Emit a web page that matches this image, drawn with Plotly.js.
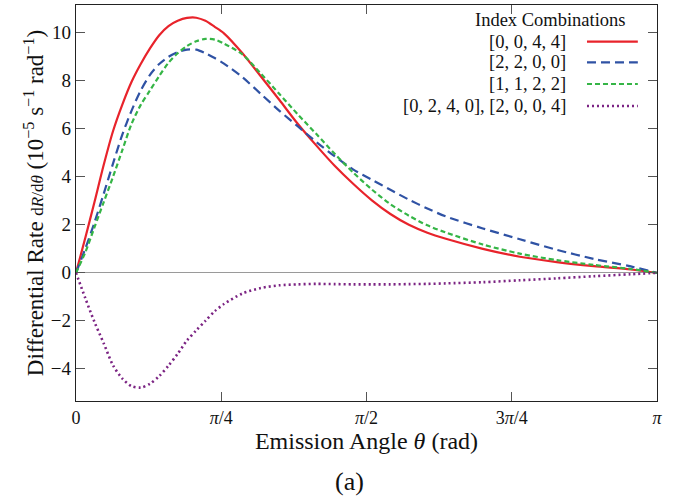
<!DOCTYPE html>
<html>
<head>
<meta charset="utf-8">
<script src="https://cdn.plot.ly/plotly-3.0.1.min.js"></script>
<style>
  html, body { margin: 0; padding: 0; background: #fff; }
  #chart { width: 674px; height: 498px; }
</style>
</head>
<body>
<div id="chart"></div>
<script>
// Emission angle theta (rad)
const theta = [0, 0.05, 0.1, 0.15, 0.2, 0.25, 0.3, 0.35, 0.4, 0.45, 0.5, 0.55, 0.6, 0.65, 0.7, 0.75, 0.8, 0.9, 1.0, 1.1, 1.2, 1.3, 1.4, 1.5, 1.6, 1.7, 1.8, 1.9, 2.0, 2.2, 2.4, 2.6, 2.8, 3.0, 3.1416];

// Differential rate (10^-5 s^-1 rad^-1)
const rate0044 = [0, 1.45, 2.95, 4.5, 5.9, 7.0, 7.95, 8.7, 9.35, 9.9, 10.28, 10.5, 10.62, 10.63, 10.5, 10.25, 9.98, 9.15, 8.18, 7.2, 6.2, 5.3, 4.45, 3.7, 3.02, 2.45, 2.0, 1.67, 1.42, 1.0, 0.67, 0.45, 0.28, 0.14, 0];
const rate2200 = [0, 1.0, 2.1, 3.3, 4.55, 5.75, 6.75, 7.6, 8.25, 8.7, 9.0, 9.2, 9.3, 9.3, 9.15, 8.95, 8.72, 8.15, 7.45, 6.75, 6.1, 5.45, 4.85, 4.3, 3.88, 3.46, 3.05, 2.68, 2.35, 1.85, 1.40, 0.96, 0.58, 0.27, 0];
const rate1122 = [0, 0.85, 1.9, 2.95, 4.0, 5.1, 6.2, 7.0, 7.6, 8.2, 8.75, 9.15, 9.45, 9.65, 9.75, 9.72, 9.55, 9.1, 8.3, 7.45, 6.6, 5.78, 4.95, 4.17, 3.47, 2.86, 2.38, 1.98, 1.68, 1.18, 0.8, 0.53, 0.33, 0.16, 0];
const rate0240 = [0, -1.05, -2.05, -2.94, -3.85, -4.4, -4.72, -4.78, -4.62, -4.3, -3.87, -3.37, -2.82, -2.4, -2.0, -1.6, -1.3, -0.86, -0.63, -0.52, -0.48, -0.46, -0.47, -0.48, -0.48, -0.48, -0.47, -0.46, -0.44, -0.39, -0.31, -0.23, -0.14, -0.06, 0];

const seriesNames = ["[0, 0, 4, 4]", "[2, 2, 0, 0]", "[1, 1, 2, 2]", "[0, 2, 4, 0], [2, 0, 0, 4]"];
const legendTitle = "Index Combinations";

const xTickVals = [0, Math.PI / 4, Math.PI / 2, 3 * Math.PI / 4, Math.PI];
const xTickText = ["0", "<i>π</i>/4", "<i>π</i>/2", "3<i>π</i>/4", "<i>π</i>"];
const yTickVals = [-4, -2, 0, 2, 4, 6, 8, 10];

const colors = ["#e8232b", "#2f52a4", "#35b546", "#7b2383"];
const dashes = ["solid", "9px,5px", "5px,3px", "2px,3px"];
const widths = [2.2, 2.2, 2.2, 2.6];
const ySeries = [rate0044, rate2200, rate1122, rate0240];

const FONT = "Liberation Serif, Times New Roman, serif";

const traces = ySeries.map((ys, i) => ({
  x: theta, y: ys, type: "scatter", mode: "lines", name: seriesNames[i],
  line: { color: colors[i], width: widths[i], dash: dashes[i], shape: "spline", smoothing: 0.8 },
  showlegend: false, hoverinfo: "skip"
}));

// Legend built from annotations + sample lines (text left of sample, as in the reference)
const legY = [0.9073, 0.8553, 0.8005, 0.745];
const annotations = [
  { text: legendTitle, xref: "paper", yref: "paper", x: 0.9501, y: 0.962, xanchor: "right", yanchor: "middle", showarrow: false, font: { family: FONT, size: 18.5, color: "#111" } },
  { text: "(a)", xref: "paper", yref: "paper", x: 0.4716, y: -0.2045, xanchor: "center", yanchor: "middle", showarrow: false, font: { family: FONT, size: 26, color: "#111" } }
];
const shapes = [];
seriesNames.forEach((n, i) => {
  annotations.push({ text: n, xref: "paper", yref: "paper", x: 0.8468, y: legY[i], xanchor: "right", yanchor: "middle", showarrow: false, font: { family: FONT, size: 18.5, color: "#111" } });
  shapes.push({ type: "line", xref: "paper", yref: "paper", x0: 0.8795, x1: 0.967, y0: legY[i], y1: legY[i], line: { color: colors[i], width: widths[i], dash: dashes[i] } });
});

const layout = {
  width: 674, height: 498,
  margin: { l: 76, r: 17, t: 5, b: 97 },
  paper_bgcolor: "#fff", plot_bgcolor: "#fff",
  font: { family: FONT, size: 19, color: "#111" },
  showlegend: false,
  xaxis: {
    range: [0, Math.PI], tickvals: xTickVals, ticktext: xTickText,
    ticks: "inside", ticklen: 9, tickcolor: "#555", tickwidth: 1,
    showline: true, mirror: "ticks", linecolor: "#222", linewidth: 1.3,
    showgrid: false, zeroline: false,
    tickfont: { family: FONT, size: 18, color: "#111" },
    title: { text: "Emission Angle <i>θ</i> (rad)", font: { family: FONT, size: 24, color: "#111" }, standoff: 4 }
  },
  yaxis: {
    range: [-5.34, 11.16], tickvals: yTickVals,
    ticktext: yTickVals.map(v => v < 0 ? "−" + Math.abs(v) : String(v)),
    ticks: "inside", ticklen: 9, tickcolor: "#555", tickwidth: 1,
    showline: true, mirror: "ticks", linecolor: "#222", linewidth: 1.3,
    showgrid: false, zeroline: true, zerolinecolor: "#9a9a9a", zerolinewidth: 1.3,
    tickfont: { family: FONT, size: 19, color: "#111" },
    title: { text: 'Differential Rate <span style="font-size:17px">d<i>R</i>/d<i>θ</i></span> (10<sup>−5</sup> s<sup>−1</sup> rad<sup>−1</sup>)', font: { family: FONT, size: 23, color: "#111" }, standoff: 0 }
  },
  annotations: annotations,
  shapes: shapes
};

Plotly.newPlot("chart", traces, layout, { staticPlot: true, displayModeBar: false });
</script>
</body>
</html>
